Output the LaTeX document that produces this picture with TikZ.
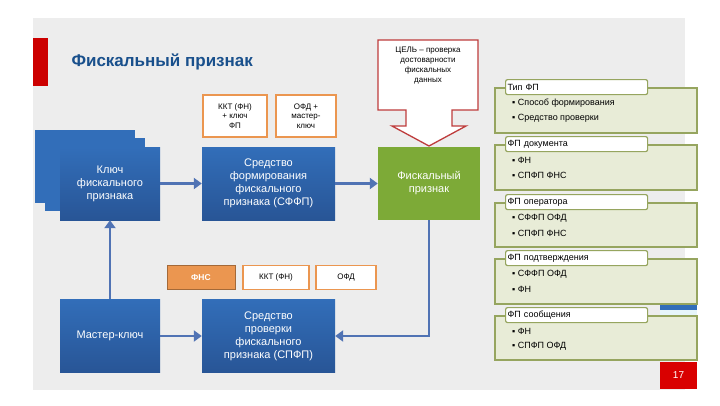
\documentclass[tikz,border=0pt]{standalone}
\usepackage{fontspec}
\setmainfont{Liberation Sans}
\usetikzlibrary{arrows.meta}
\definecolor{bluebox}{RGB}{50,110,185}
\definecolor{bluedark}{RGB}{40,85,150}
\definecolor{greenbox}{RGB}{125,170,55}
\definecolor{orng}{RGB}{235,150,80}
\definecolor{olive}{RGB}{150,165,95}
\definecolor{panelfill}{RGB}{232,236,215}
\definecolor{titleblue}{RGB}{25,80,140}
\definecolor{darkred}{RGB}{190,60,60}
\definecolor{conn}{RGB}{80,115,180}
\begin{document}
\begin{tikzpicture}[x=1pt,y=-1pt,
  bbox/.style={draw=none,top color=bluebox,bottom color=bluedark,text=white,align=center,font=\fontsize{11}{13}\selectfont,inner sep=0pt},
  small/.style={draw=orng,line width=1.2pt,fill=white,align=center,font=\fontsize{8}{9.5}\selectfont,inner sep=0pt},
  conarrow/.style={draw=conn,line width=2.6pt,-{Triangle[length=8pt,width=11pt]}},
  tab/.style={draw=olive,line width=1.2pt,fill=white,rounded corners=2pt,font=\fontsize{9}{10}\selectfont,anchor=north west,minimum width=142pt,minimum height=15pt,inner sep=1.5pt,text width=138pt,align=left},
  body/.style={draw=olive,line width=1.2pt,fill=panelfill},
  item/.style={font=\fontsize{9}{10}\selectfont,anchor=west,inner sep=0pt}
]
\useasboundingbox (0,0) rectangle (720,405);
\fill[white] (0,0) rectangle (720,405);
\fill[black!7] (33,18) rectangle (685,390);
\fill[red!80!black] (33,38) rectangle (48,86);
\node[anchor=west,text=titleblue,font=\fontsize{17}{20}\selectfont\bfseries] (title) at (68,62) {Фискальный признак};
% key stack
\fill[bluebox] (35,130) rectangle (135,203);
\fill[bluebox] (45,138) rectangle (145,211);
\node[bbox,minimum width=100pt,minimum height=73pt] (key) at (110,183.5) {Ключ\\фискального\\признака};
\node[bbox,minimum width=133pt,minimum height=73pt] (sffp) at (268.5,183.5) {Средство\\формирования\\фискального\\признака (СФФП)};
\node[small,minimum width=64pt,minimum height=42pt] (k1) at (235,116) {ККТ (ФН)\\+ ключ\\ФП};
\node[small,minimum width=60pt,minimum height=42pt] (k2) at (306,116) {ОФД +\\мастер-\\ключ};
\node[draw=none,fill=greenbox,text=white,align=center,font=\fontsize{11}{13}\selectfont,minimum width=102pt,minimum height=73pt,inner sep=0pt] (fp) at (429,183.5) {Фискальный\\признак};
% goal callout
\draw[darkred,line width=1.3pt,fill=white] (378,40) -- (478,40) -- (478,110) -- (452,110) -- (452,126) -- (466,126) -- (429,146) -- (392,126) -- (406,126) -- (406,110) -- (378,110) -- cycle;
\node[align=center,font=\fontsize{8}{10}\selectfont,anchor=north] (goal) at (428,43) {ЦЕЛЬ -- проверка\\достоварности\\фискальных\\данных};
% bottom row
\node[bbox,minimum width=100pt,minimum height=73pt] (mk) at (110,336) {Мастер-ключ};
\node[bbox,minimum width=133pt,minimum height=73pt] (spfp) at (268.5,336) {Средство\\проверки\\фискального\\признака (СПФП)};
\node[draw=orng!70!black,fill=orng,line width=1pt,text=white,font=\fontsize{8.5}{9}\selectfont\bfseries,minimum width=68pt,minimum height=24pt,inner sep=0pt] (fns) at (201,277.5) {ФНС};
\node[small,minimum width=66pt,minimum height=24pt] (kkt) at (276,277.5) {ККТ (ФН)};
\node[small,minimum width=60pt,minimum height=24pt] (ofd) at (346,277.5) {ОФД};
% connectors
\draw[conarrow] (key.east) -- (sffp.west);
\draw[conarrow] (sffp.east) -- (fp.west);
\draw[conarrow] (mk.east) -- (spfp.west);
\draw[conarrow] (mk.north) -- (key.south);
\draw[conarrow] (fp.south) -- (fp.south |- spfp.east) -- (spfp.east);
% right panels
\fill[black!15!cyan!10] (660,280) rectangle (697,360);
\fill[bluebox] (660,303) rectangle (697,310);
\foreach \t/\b/\title/\a/\bb [count=\i] in {
 88/133/Тип ФП/Способ формирования/Средство проверки,
 145/190/ФП документа/ФН/СПФП ФНС,
 203/247/ФП оператора/СФФП ОФД/СПФП ФНС,
 259/304/ФП подтверждения/СФФП ОФД/ФН,
 316/360/ФП сообщения/ФН/СПФП ОФД}{
 \draw[body] (495,\t) rectangle (697,\b);
 \node[tab] (tab\i) at (505,\t-9) {\title};
 \node[item] (ia\i) at (512,\t+15) {▪ \a};
 \node[item] (ib\i) at (512,\t+30) {▪ \bb};
}
\fill[red!85!black] (660,362) rectangle (697,389);
\node[text=white,font=\fontsize{10}{11}\selectfont] (pg) at (678.5,375.5) {17};
\end{tikzpicture}
\end{document}
